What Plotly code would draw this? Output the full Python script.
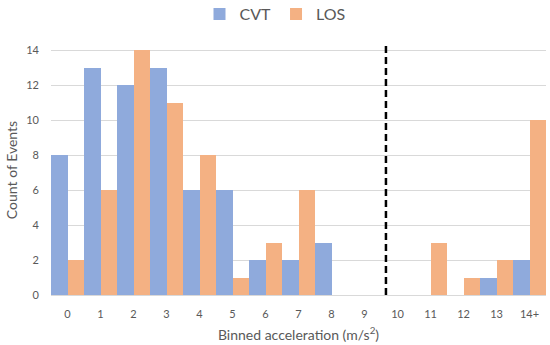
import plotly.graph_objects as go

categories = ["0", "1", "2", "3", "4", "5", "6", "7", "8", "9", "10", "11", "12", "13", "14+"]
cvt = [8, 13, 12, 13, 6, 6, 2, 2, 3, 0, 0, 0, 0, 1, 2]
los = [2, 6, 14, 11, 8, 1, 3, 6, 0, 0, 0, 3, 1, 2, 10]
divider_pos = 9.65

FONT = "Lato"
TXT = "#595959"

fig = go.Figure()
fig.add_trace(go.Bar(name="CVT", x=categories, y=cvt, marker=dict(color="#8FAADC", line=dict(width=0))))
fig.add_trace(go.Bar(name="LOS", x=categories, y=los, marker=dict(color="#F4B183", line=dict(width=0))))

fig.add_shape(type="line", xref="x", yref="y", x0=divider_pos, x1=divider_pos, y0=0, y1=14.3,
              line=dict(color="black", width=2.5, dash="7px,4px"))

fig.update_layout(
    width=550, height=345,
    margin=dict(l=51, r=4, t=45, b=50),
    paper_bgcolor="white", plot_bgcolor="white",
    barmode="group", bargap=0, bargroupgap=0,
    font=dict(family=FONT, color=TXT, size=11),
    legend=dict(orientation="h", xref="container", yref="container", x=0.5, xanchor="center",
                y=1 - 14 / 345, yanchor="middle", font=dict(size=16, color=TXT),
                itemwidth=30, traceorder="normal"),
    xaxis=dict(type="category", showgrid=False, showline=True, linecolor="#D9D9D9", linewidth=1,
               ticks="", tickfont=dict(size=11, color=TXT), ticklabelstandoff=9,
               title=dict(text="Binned acceleration (m/s<sup>2</sup>)", font=dict(size=14, color=TXT), standoff=10)),
    yaxis=dict(range=[0, 14.3], dtick=2, showgrid=True, gridcolor="#D9D9D9", gridwidth=1,
               zeroline=False, ticks="", tickfont=dict(size=11, color=TXT), ticklabelstandoff=11,
               title=dict(text="Count of Events", font=dict(size=14, color=TXT), standoff=5)),
)

fig.write_html("out.html", config={"displayModeBar": False},
               post_script="document.body.style.margin='0';")
